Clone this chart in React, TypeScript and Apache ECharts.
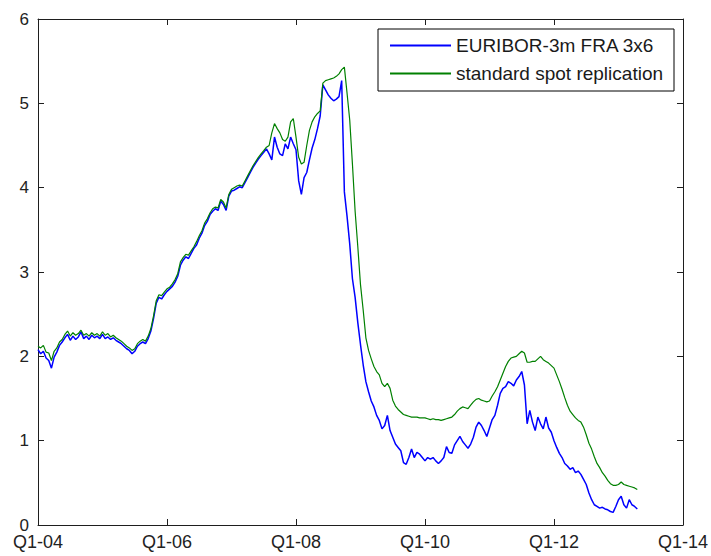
import React, { useEffect, useRef } from "react";
import * as echarts from "echarts";

// Half-monthly observations starting Q1-2004 (24 per year).
const START_YEAR = 2004;
const STEPS_PER_YEAR = 24;

const SERIES_NAMES = ["EURIBOR-3m FRA 3x6", "standard spot replication"];
const X_TICKS = [2004, 2006, 2008, 2010, 2012, 2014];
const Y_TICKS = [0, 1, 2, 3, 4, 5, 6];

// EURIBOR-3m FRA 3x6 (%)
const fra3x6: number[] = [
  // 2004
  2.08, 2.03, 2.06, 1.98, 1.95, 1.86, 1.99, 2.05, 2.13, 2.17, 2.22, 2.26, 2.19, 2.24, 2.20, 2.23, 2.29, 2.21, 2.24, 2.20, 2.25, 2.22, 2.24, 2.21,
  // 2005
  2.26, 2.21, 2.23, 2.20, 2.22, 2.19, 2.17, 2.15, 2.12, 2.09, 2.07, 2.03, 2.06, 2.12, 2.15, 2.17, 2.15, 2.21, 2.30, 2.45, 2.63, 2.70, 2.68, 2.73,
  // 2006
  2.77, 2.80, 2.83, 2.88, 2.95, 3.08, 3.14, 3.18, 3.16, 3.22, 3.28, 3.32, 3.40, 3.46, 3.55, 3.60, 3.68, 3.72, 3.75, 3.73, 3.84, 3.80, 3.73, 3.90,
  // 2007
  3.96, 3.97, 3.99, 4.01, 4.00, 4.06, 4.12, 4.18, 4.24, 4.29, 4.34, 4.38, 4.42, 4.46, 4.40, 4.33, 4.60, 4.48, 4.40, 4.38, 4.52, 4.46, 4.60, 4.52,
  // 2008
  4.45, 4.08, 3.92, 4.12, 4.18, 4.33, 4.47, 4.57, 4.70, 4.85, 5.22, 5.16, 5.10, 5.06, 5.03, 5.05, 5.08, 5.27, 3.95, 3.66, 3.33, 2.92, 2.70, 2.40,
  // 2009
  2.14, 1.90, 1.70, 1.58, 1.47, 1.40, 1.30, 1.24, 1.14, 1.18, 1.30, 1.12, 1.04, 0.96, 0.92, 0.88, 0.74, 0.72, 0.80, 0.90, 0.80, 0.86, 0.84, 0.80,
  // 2010
  0.76, 0.80, 0.78, 0.80, 0.76, 0.73, 0.76, 0.80, 0.93, 0.86, 0.85, 0.95, 1.00, 1.05, 0.99, 0.95, 0.91, 0.96, 1.04, 1.16, 1.22, 1.18, 1.12, 1.05,
  // 2011
  1.15, 1.25, 1.30, 1.42, 1.56, 1.62, 1.64, 1.70, 1.68, 1.65, 1.72, 1.76, 1.82, 1.66, 1.20, 1.36, 1.22, 1.12, 1.28, 1.20, 1.14, 1.28, 1.15, 1.10,
  // 2012
  1.00, 0.92, 0.85, 0.80, 0.73, 0.70, 0.66, 0.68, 0.62, 0.64, 0.60, 0.54, 0.48, 0.38, 0.30, 0.24, 0.22, 0.20, 0.21, 0.19, 0.18, 0.16, 0.15, 0.22,
  // 2013
  0.30, 0.34, 0.24, 0.20, 0.30, 0.24, 0.22, 0.19,
];

// Standard spot replication of the same forward rate (%)
const spotReplication: number[] = [
  // 2004
  2.12, 2.10, 2.13, 2.05, 2.04, 1.95, 2.06, 2.10, 2.17, 2.20, 2.26, 2.30, 2.24, 2.28, 2.25, 2.27, 2.31, 2.25, 2.27, 2.24, 2.28, 2.25, 2.27, 2.24,
  // 2005
  2.29, 2.25, 2.27, 2.23, 2.25, 2.22, 2.20, 2.18, 2.15, 2.12, 2.10, 2.07, 2.09, 2.15, 2.18, 2.20, 2.18, 2.24, 2.33, 2.48, 2.66, 2.73, 2.72, 2.76,
  // 2006
  2.80, 2.82, 2.86, 2.91, 2.98, 3.12, 3.17, 3.21, 3.20, 3.25, 3.30, 3.36, 3.43, 3.49, 3.58, 3.63, 3.70, 3.75, 3.77, 3.76, 3.86, 3.83, 3.76, 3.92,
  // 2007
  3.98, 4.00, 4.02, 4.03, 4.02, 4.08, 4.14, 4.20, 4.26, 4.31, 4.36, 4.40, 4.44, 4.48, 4.50, 4.65, 4.76, 4.70, 4.65, 4.57, 4.55, 4.60, 4.78, 4.82,
  // 2008
  4.60, 4.36, 4.28, 4.30, 4.50, 4.68, 4.78, 4.84, 4.88, 4.91, 5.24, 5.27, 5.28, 5.29, 5.30, 5.32, 5.35, 5.40, 5.43, 5.12, 4.80, 4.28, 3.72, 3.30,
  // 2009
  2.85, 2.55, 2.22, 2.07, 1.97, 1.88, 1.82, 1.78, 1.68, 1.64, 1.68, 1.62, 1.48, 1.41, 1.37, 1.34, 1.31, 1.30, 1.29, 1.28, 1.28, 1.28, 1.27, 1.27,
  // 2010
  1.27, 1.26, 1.25, 1.26, 1.25, 1.25, 1.24, 1.25, 1.26, 1.27, 1.28, 1.31, 1.35, 1.38, 1.40, 1.39, 1.38, 1.42, 1.46, 1.49, 1.50, 1.48, 1.47, 1.46,
  // 2011
  1.47, 1.53, 1.58, 1.64, 1.72, 1.80, 1.88, 1.94, 1.98, 1.99, 2.00, 2.03, 2.06, 2.04, 1.93, 1.93, 1.94, 1.94, 1.97, 2.00, 1.96, 1.94, 1.92, 1.89,
  // 2012
  1.86, 1.78, 1.70, 1.61, 1.51, 1.42, 1.35, 1.31, 1.27, 1.24, 1.22, 1.16, 1.07, 0.97, 0.90, 0.81, 0.73, 0.68, 0.62, 0.58, 0.53, 0.49, 0.47, 0.47,
  // 2013
  0.48, 0.51, 0.48, 0.47, 0.46, 0.45, 0.44, 0.42,
];

const toPoints = (values: number[]) =>
  values.map((v, i) => [START_YEAR + i / STEPS_PER_YEAR, v]);

const quarterLabel = (v: number) => "Q1-" + String(Math.round(v)).slice(2);

const FONT = "'Liberation Sans', Arial, sans-serif";
const AXIS_COLOR = "#1e1e1e";

export default function App() {
  const ref = useRef<HTMLDivElement>(null);

  useEffect(() => {
    if (!ref.current) return;
    const chart = echarts.init(ref.current, null, { renderer: "svg" });

    const baseX = {
      type: "value" as const,
      min: X_TICKS[0],
      max: X_TICKS[X_TICKS.length - 1],
      interval: 2,
      splitLine: { show: false },
      axisLine: { show: true, onZero: false, lineStyle: { color: AXIS_COLOR, width: 1 } },
      axisTick: { show: true, inside: true, length: 6, lineStyle: { color: AXIS_COLOR } },
    };
    const baseY = {
      type: "value" as const,
      min: Y_TICKS[0],
      max: Y_TICKS[Y_TICKS.length - 1],
      interval: 1,
      splitLine: { show: false },
      axisLine: { show: true, onZero: false, lineStyle: { color: AXIS_COLOR, width: 1 } },
      axisTick: { show: true, inside: true, length: 6, lineStyle: { color: AXIS_COLOR } },
    };

    chart.setOption({
      animation: false,
      backgroundColor: "#ffffff",
      grid: { left: 38, right: 27, top: 19, bottom: 31, containLabel: false },
      xAxis: [
        {
          ...baseX,
          position: "bottom",
          axisLabel: {
            show: true,
            margin: 10,
            fontSize: 18,
            lineHeight: 14,
            fontFamily: FONT,
            color: "#222222",
            formatter: quarterLabel,
          },
        },
        { ...baseX, position: "top", axisLabel: { show: false } },
      ],
      yAxis: [
        {
          ...baseY,
          position: "left",
          axisLabel: {
            show: true,
            margin: 9,
            fontSize: 17,
            lineHeight: 14,
            fontFamily: FONT,
            color: "#222222",
          },
        },
        { ...baseY, position: "right", axisLabel: { show: false } },
      ],
      legend: {
        show: true,
        orient: "vertical",
        left: 378,
        top: 29,
        padding: [7, 11, 8, 11],
        itemGap: 9,
        itemWidth: 61,
        itemHeight: 12,
        borderColor: "#000000",
        borderWidth: 1,
        backgroundColor: "#ffffff",
        // line-only legend keys (no marker dot)
        itemStyle: { opacity: 0 },
        textStyle: { fontSize: 19, fontFamily: FONT, color: "#1a1a1a" },
        data: SERIES_NAMES,
      },
      series: [
        {
          name: SERIES_NAMES[0],
          type: "line",
          xAxisIndex: 0,
          yAxisIndex: 0,
          data: toPoints(fra3x6),
          symbol: "none",
          showSymbol: false,
          lineStyle: { color: "#0000ff", width: 1.5 },
          itemStyle: { color: "#0000ff" },
        },
        {
          name: SERIES_NAMES[1],
          type: "line",
          xAxisIndex: 0,
          yAxisIndex: 0,
          data: toPoints(spotReplication),
          symbol: "none",
          showSymbol: false,
          lineStyle: { color: "#008000", width: 1.2 },
          itemStyle: { color: "#008000" },
        },
      ],
    });

    return () => chart.dispose();
  }, []);

  return (
    <div
      ref={ref}
      style={{ position: "fixed", left: 0, top: 0, width: 711, height: 556, background: "#fff" }}
    />
  );
}
